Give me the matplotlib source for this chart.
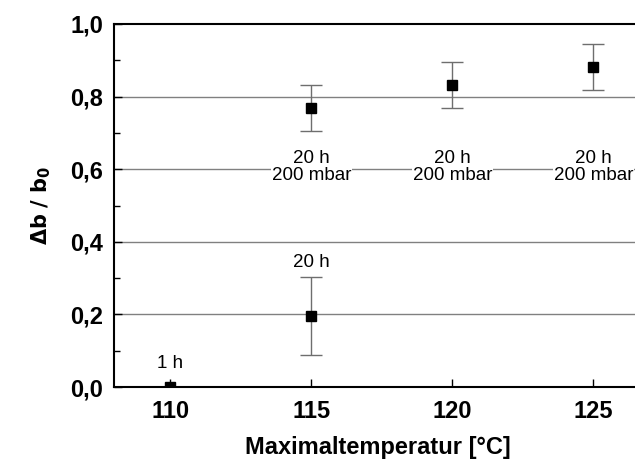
import matplotlib
matplotlib.use("Agg")
import matplotlib.pyplot as plt
from matplotlib.ticker import MultipleLocator, FuncFormatter

plt.rcParams['font.family'] = ['Liberation Sans', 'DejaVu Sans']

temps = [110, 115, 115, 120, 125]
values = [0.0, 0.195, 0.768, 0.832, 0.881]
errors = [0.0, 0.107, 0.064, 0.063, 0.064]
labels = ["1 h", "20 h", "20 h\n200 mbar", "20 h\n200 mbar", "20 h\n200 mbar"]
label_y = [0.066, 0.344, 0.606, 0.606, 0.606]
xticks = [110, 115, 120, 125]

fig = plt.figure(figsize=(6.35, 4.63), dpi=100)
ax = fig.add_axes([114/635, 1 - 387/463, 1 - 114/635 + 0.01, 363/463])

ax.set_xlim(108.0, 126.7)
ax.set_ylim(0.0, 1.0)

for y in [0.2, 0.4, 0.6, 0.8]:
    ax.axhline(y, color='#808080', lw=1.0, zorder=1)

ax.errorbar(temps, values, yerr=errors, fmt='none', ecolor='#6e6e6e',
            elinewidth=1.0, capsize=8, capthick=1.0, zorder=2)
ax.plot(temps, values, 's', color='black', markersize=7, zorder=3, clip_on=True)

for x, y, t in zip(temps, label_y, labels):
    ax.text(x, y, t, ha='center', va='center', fontsize=13.5, linespacing=0.93,
            zorder=4, bbox=dict(facecolor='white', edgecolor='none', pad=0.3))

ax.spines['right'].set_visible(False)
for s in ['left', 'top', 'bottom']:
    ax.spines[s].set_linewidth(1.5)

ax.set_xticks(xticks)
ax.yaxis.set_major_locator(MultipleLocator(0.2))
ax.yaxis.set_minor_locator(MultipleLocator(0.1))
ax.yaxis.set_major_formatter(FuncFormatter(lambda v, p: f"{v:.1f}".replace('.', ',')))
ax.tick_params(axis='both', which='both', direction='in', width=1.0)
ax.tick_params(axis='both', which='major', length=6, labelsize=17)
ax.tick_params(axis='x', which='major', pad=9)
ax.tick_params(axis='y', which='major', pad=8)
ax.tick_params(axis='y', which='minor', length=4)
ax.tick_params(top=False, right=False)
for lab in ax.get_xticklabels() + ax.get_yticklabels():
    lab.set_fontweight('bold')

ax.set_xlabel("Maximaltemperatur [°C]", fontsize=17, fontweight='bold', labelpad=10)
ax.set_ylabel(r"$\mathbf{\Delta b\ /\ b_0}$", fontsize=15, labelpad=12)

fig.savefig("out.png", dpi=100)
